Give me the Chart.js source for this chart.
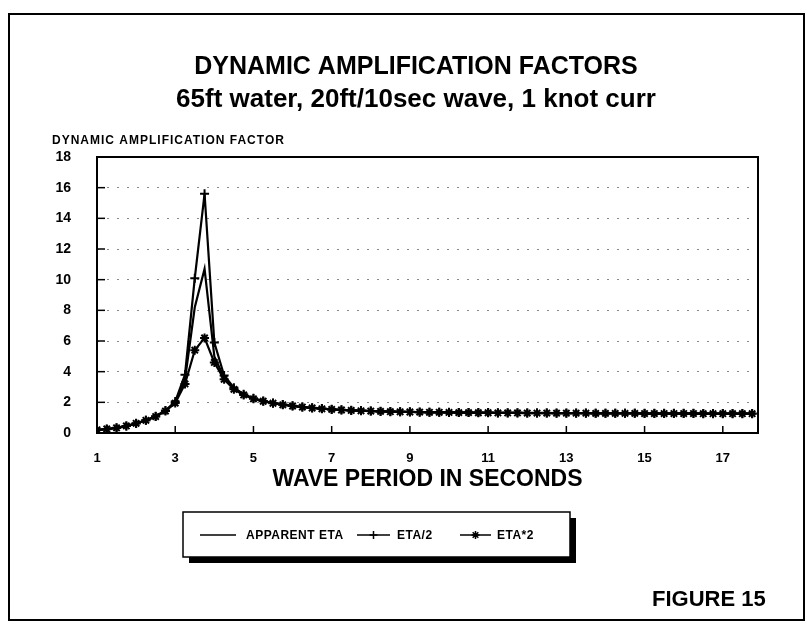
<!DOCTYPE html>
<html>
<head>
<meta charset="utf-8">
<script src="https://cdn.jsdelivr.net/npm/chart.js@4/dist/chart.umd.min.js"></script>
<style>
  html, body { margin: 0; padding: 0; background: #fff; }
  #wrap { width: 805px; height: 630px; }
</style>
</head>
<body>
<div id="wrap"><canvas id="daf" width="805" height="630"></canvas></div>
<script>
// wave period (sec)
const periods = [1, 1.25, 1.5, 1.75, 2, 2.25, 2.5, 2.75, 3, 3.25, 3.5, 3.75, 4, 4.25, 4.5, 4.75,
  5, 5.25, 5.5, 5.75, 6, 6.25, 6.5, 6.75, 7, 7.25, 7.5, 7.75, 8, 8.25, 8.5, 8.75,
  9, 9.25, 9.5, 9.75, 10, 10.25, 10.5, 10.75, 11, 11.25, 11.5, 11.75, 12, 12.25, 12.5, 12.75,
  13, 13.25, 13.5, 13.75, 14, 14.25, 14.5, 14.75, 15, 15.25, 15.5, 15.75, 16, 16.25, 16.5, 16.75,
  17, 17.25, 17.5, 17.75]

const apparentEta = [0.20, 0.25, 0.33, 0.45, 0.62, 0.82, 1.08, 1.45, 2.00, 3.50,
  8.20, 10.70, 5.00, 3.60, 2.90, 2.50, 2.25, 2.08, 1.95, 1.85,
  1.76, 1.69, 1.63, 1.58, 1.54, 1.50, 1.47, 1.45, 1.43, 1.41,
  1.39, 1.38, 1.37, 1.36, 1.35, 1.35, 1.34, 1.33, 1.33, 1.32,
  1.32, 1.31, 1.31, 1.31, 1.30, 1.30, 1.30, 1.29, 1.29, 1.29,
  1.29, 1.28, 1.28, 1.28, 1.28, 1.28, 1.27, 1.27, 1.27, 1.27,
  1.27, 1.27, 1.26, 1.26, 1.26, 1.26, 1.26, 1.26]

const etaHalf = [0.20, 0.25, 0.33, 0.45, 0.62, 0.83, 1.09, 1.47, 2.05, 3.80,
  10.10, 15.60, 5.90, 3.75, 2.95, 2.53, 2.27, 2.09, 1.96, 1.86,
  1.77, 1.70, 1.64, 1.59, 1.55, 1.51, 1.48, 1.46, 1.44, 1.42,
  1.40, 1.39, 1.38, 1.37, 1.36, 1.36, 1.35, 1.34, 1.34, 1.33,
  1.33, 1.32, 1.32, 1.32, 1.31, 1.31, 1.31, 1.30, 1.30, 1.30,
  1.30, 1.29, 1.29, 1.29, 1.29, 1.29, 1.28, 1.28, 1.28, 1.28,
  1.28, 1.28, 1.27, 1.27, 1.27, 1.27, 1.27, 1.27]

const etaDouble = [0.21, 0.26, 0.34, 0.46, 0.63, 0.83, 1.07, 1.43, 1.95, 3.20,
  5.40, 6.20, 4.60, 3.50, 2.85, 2.48, 2.23, 2.07, 1.94, 1.84,
  1.76, 1.69, 1.63, 1.58, 1.54, 1.50, 1.47, 1.45, 1.43, 1.41,
  1.39, 1.38, 1.37, 1.36, 1.35, 1.35, 1.34, 1.33, 1.33, 1.32,
  1.32, 1.31, 1.31, 1.31, 1.30, 1.30, 1.30, 1.29, 1.29, 1.29,
  1.29, 1.28, 1.28, 1.28, 1.28, 1.28, 1.27, 1.27, 1.27, 1.27,
  1.27, 1.27, 1.26, 1.26, 1.26, 1.26, 1.26, 1.26]

const xTicks = [1, 3, 5, 7, 9, 11, 13, 15, 17]
const seriesNames = ['APPARENT ETA', 'ETA/2', 'ETA*2']

const FONT = '"Liberation Sans", Arial, Helvetica, sans-serif'

const toPoints = (ys) => ys.map((y, i) => ({ x: periods[i], y: y }))

function line(ctx, x1, y1, x2, y2, w) {
  ctx.beginPath()
  ctx.lineWidth = w
  ctx.moveTo(x1, y1)
  ctx.lineTo(x2, y2)
  ctx.stroke()
}

function text(ctx, str, x, y, size, align, spacing) {
  ctx.font = 'bold ' + size + 'px ' + FONT
  ctx.textAlign = align || 'left'
  ctx.textBaseline = 'middle'
  ctx.letterSpacing = spacing || '0px'
  ctx.fillText(str, x, y)
  ctx.letterSpacing = '0px'
}

// frame, inward ticks, titles, legend box, figure number
const decor = {
  id: 'decor',
  beforeDraw(chart) {
    const ctx = chart.ctx
    ctx.save()
    ctx.fillStyle = '#fff'
    ctx.fillRect(0, 0, chart.width, chart.height)
    ctx.restore()
  },
  afterDraw(chart) {
    const ctx = chart.ctx
    const a = chart.chartArea
    const xs = chart.scales.x, ys = chart.scales.y
    ctx.save()
    ctx.strokeStyle = '#000'
    ctx.fillStyle = '#000'

    // page border
    ctx.lineWidth = 2
    ctx.strokeRect(9, 14, 795, 606)

    // plot frame
    ctx.strokeRect(a.left, a.top, a.right - a.left, a.bottom - a.top)

    // inward tick marks
    xs.ticks.forEach(t => {
      const px = xs.getPixelForValue(t.value)
      line(ctx, px, a.bottom, px, a.bottom - 7, 1.5)
    })
    ys.ticks.forEach(t => {
      const py = ys.getPixelForValue(t.value)
      line(ctx, a.left, py, a.left + 8, py, 1.5)
    })

    // titles
    text(ctx, 'DYNAMIC AMPLIFICATION FACTORS', 416, 67, 25, 'center')
    text(ctx, '65ft water, 20ft/10sec wave, 1 knot curr', 416, 100, 26, 'center')
    text(ctx, 'DYNAMIC AMPLIFICATION FACTOR', 52, 141, 12, 'left', '1px')

    // legend box with drop shadow
    const bx = 183, by = 512, bw = 387, bh = 45
    ctx.fillRect(bx + 6, by + 6, bw, bh)
    ctx.fillStyle = '#fff'
    ctx.fillRect(bx, by, bw, bh)
    ctx.lineWidth = 1.5
    ctx.strokeRect(bx, by, bw, bh)
    ctx.fillStyle = '#000'

    const ly = 535
    const items = [
      { x1: 200, x2: 236, tx: 246 },
      { x1: 357, x2: 390, tx: 397 },
      { x1: 460, x2: 491, tx: 497 }
    ]
    items.forEach((it, i) => {
      line(ctx, it.x1, ly, it.x2, ly, 1.5)
      const ds = chart.data.datasets[i]
      if (ds.pointRadius > 0) {
        Chart.helpers.drawPoint(ctx, {
          pointStyle: ds.pointStyle, radius: 4, borderWidth: 1.5
        }, (it.x1 + it.x2) / 2, ly)
      }
      text(ctx, seriesNames[i], it.tx, ly + 1, 12, 'left', '0.5px')
    })

    text(ctx, 'FIGURE 15', 652, 600, 22, 'left')
    ctx.restore()
  }
}

const common = {
  borderColor: '#000',
  backgroundColor: '#000',
  pointBorderColor: '#000',
  borderWidth: 2.2,
  tension: 0,
  fill: false
}

new Chart(document.getElementById('daf'), {
  type: 'line',
  data: {
    datasets: [
      Object.assign({ label: seriesNames[0], data: toPoints(apparentEta), pointRadius: 0 }, common),
      Object.assign({ label: seriesNames[1], data: toPoints(etaHalf), pointRadius: 4.5,
        pointStyle: 'cross', pointBorderWidth: 2 }, common),
      Object.assign({ label: seriesNames[2], data: toPoints(etaDouble), pointRadius: 4.5,
        pointStyle: 'star', pointBorderWidth: 2 }, common)
    ]
  },
  options: {
    responsive: false,
    animation: false,
    events: [],
    layout: { padding: { top: 157, left: 20, right: 47, bottom: 137 } },
    plugins: {
      legend: { display: false },
      tooltip: { enabled: false },
      title: { display: false }
    },
    scales: {
      x: {
        type: 'linear',
        min: 1,
        max: 17.9,
        afterBuildTicks: (scale) => { scale.ticks = xTicks.map(v => ({ value: v })) },
        afterFit: (scale) => { scale.height = 60 },
        grid: { display: false, drawTicks: false },
        border: { display: false },
        ticks: {
          color: '#000',
          padding: 18,
          maxRotation: 0,
          autoSkip: false,
          font: { family: FONT, size: 13, weight: 'bold' }
        },
        title: {
          display: true,
          text: 'WAVE PERIOD IN SECONDS',
          color: '#000',
          padding: { top: 0, bottom: 0 },
          font: { family: FONT, size: 23, weight: 'bold' }
        }
      },
      y: {
        min: 0,
        max: 18,
        afterFit: (scale) => { scale.width = 77 },
        grid: { color: '#888', lineWidth: 1, drawTicks: false },
        border: { display: false, dash: [2, 8] },
        ticks: {
          stepSize: 2,
          color: '#000',
          padding: 26,
          font: { family: FONT, size: 14, weight: 'bold' }
        }
      }
    }
  },
  plugins: [decor]
})
</script>
</body>
</html>
